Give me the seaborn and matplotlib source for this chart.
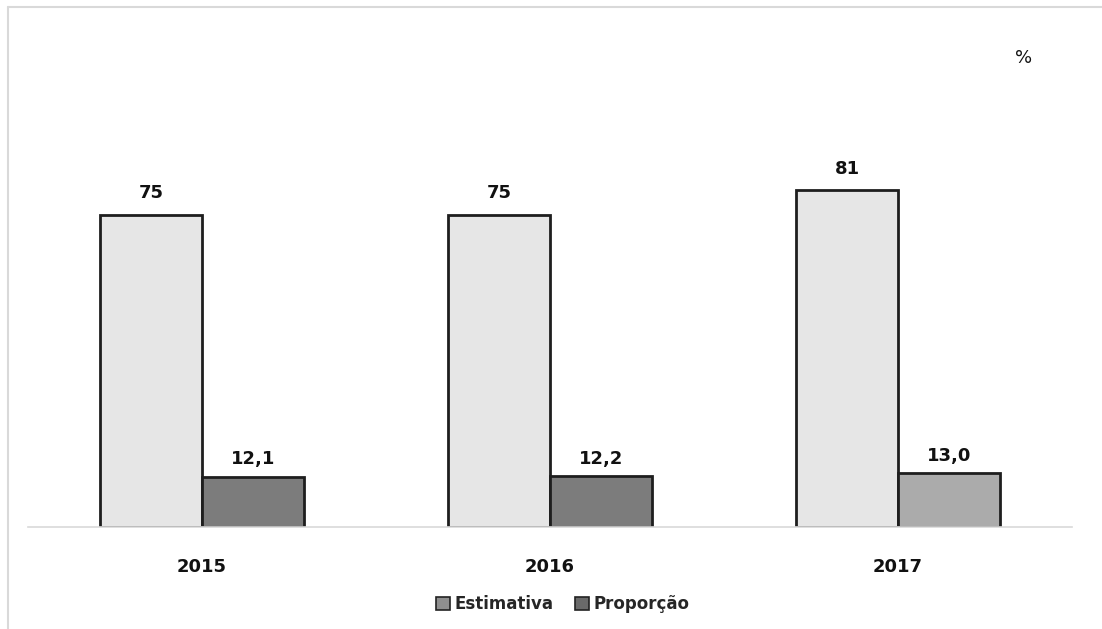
import matplotlib
matplotlib.use("Agg")
import matplotlib.pyplot as plt
from matplotlib.lines import Line2D
from matplotlib.patches import Patch
import seaborn as sns
import pandas as pd

years = ["2015", "2016", "2017"]
estimativa = [75, 75, 81]
proporcao = [12.1, 12.2, 13.0]
series_names = ["Estimativa", "Proporção"]
est_labels = ["75", "75", "81"]
prop_labels = ["12,1", "12,2", "13,0"]

df = pd.DataFrame({
    "ano": years * 2,
    "valor": estimativa + proporcao,
    "serie": [series_names[0]] * 3 + [series_names[1]] * 3,
})

sns.set_theme(style="white")
plt.rcParams["font.family"] = ["DejaVu Sans"]

fig = plt.figure(figsize=(11.02, 6.29), dpi=100)
ax = fig.add_axes([28 / 1102, 102 / 629, 1044 / 1102, 416 / 629])

sns.barplot(data=df, x="ano", y="valor", hue="serie",
            palette=["#e6e6e6", "#7c7c7c"], width=0.585,
            edgecolor="#1e1e1e", linewidth=2.0, legend=False, ax=ax)

ax.set_ylim(0, 100)
ax.set_xlim(-0.5, 2.5)

conts = ax.containers
conts[1].patches[2].set_facecolor("#ababab")

ax.bar_label(conts[0], labels=est_labels, padding=9, fontsize=13,
             fontweight="bold", color="#111111")
ax.bar_label(conts[1], labels=prop_labels, padding=6, fontsize=13,
             fontweight="bold", color="#111111")

for s in ["top", "right", "left"]:
    ax.spines[s].set_visible(False)
ax.spines["bottom"].set_color("#d9d9d9")
ax.spines["bottom"].set_linewidth(1.2)
ax.set_yticks([])
ax.set_xlabel("")
ax.set_ylabel("")
ax.tick_params(axis="x", length=0, pad=22, labelsize=13)
for t in ax.get_xticklabels():
    t.set_fontweight("bold")
    t.set_color("#111111")

fig.text(1024 / 1102, 1 - 58 / 629, "%", fontsize=13, ha="center",
         va="center", color="#111111")

handles = [Patch(facecolor="#8f8f8f", edgecolor="#222222", linewidth=1.2),
           Patch(facecolor="#6a6a6a", edgecolor="#222222", linewidth=1.2)]
fig.legend(handles, series_names, loc="center", ncol=2,
           bbox_to_anchor=(563 / 1102, 1 - 604 / 629), frameon=False,
           prop={"weight": "bold", "size": 12}, handlelength=0.8,
           handleheight=0.8, handletextpad=0.3, columnspacing=1.3)

fig.add_artist(Line2D([8 / 1102, 8 / 1102], [0, 1 - 7 / 629],
                      transform=fig.transFigure, color="#d9d9d9", lw=1.5))
fig.add_artist(Line2D([8 / 1102, 1], [1 - 7 / 629, 1 - 7 / 629],
                      transform=fig.transFigure, color="#d9d9d9", lw=1.5))

fig.savefig("out.png", dpi=100, facecolor="white")
